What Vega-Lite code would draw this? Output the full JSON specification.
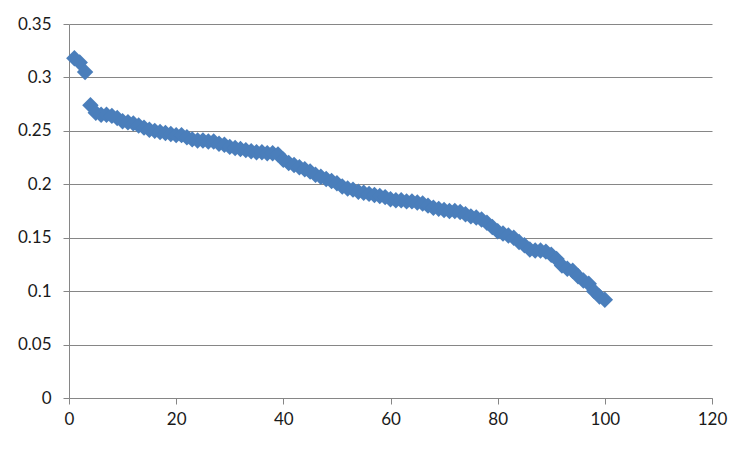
{
  "$schema": "https://vega.github.io/schema/vega-lite/v6.json",
  "width": 643,
  "height": 374,
  "autosize": {"type": "none"},
  "padding": {"left": 69, "top": 24, "right": 39, "bottom": 53},
  "background": "white",
  "config": {
    "view": {"stroke": null},
    "axis": {
      "labelFont": "Lato",
      "labelFontSize": 17,
      "labelColor": "#1a1a1a",
      "domainColor": "#868686",
      "tickColor": "#868686",
      "gridColor": "#868686",
      "tickSize": 6,
      "title": null
    }
  },
  "data": {
    "values": [
      {"x": 1, "y": 0.318}, {"x": 2, "y": 0.314}, {"x": 3, "y": 0.305}, {"x": 4, "y": 0.274},
      {"x": 5, "y": 0.267}, {"x": 6, "y": 0.265}, {"x": 7, "y": 0.265}, {"x": 8, "y": 0.264},
      {"x": 9, "y": 0.262}, {"x": 10, "y": 0.259}, {"x": 11, "y": 0.258}, {"x": 12, "y": 0.257},
      {"x": 13, "y": 0.255}, {"x": 14, "y": 0.253}, {"x": 15, "y": 0.251}, {"x": 16, "y": 0.25},
      {"x": 17, "y": 0.249}, {"x": 18, "y": 0.248}, {"x": 19, "y": 0.247}, {"x": 20, "y": 0.246},
      {"x": 21, "y": 0.246}, {"x": 22, "y": 0.244}, {"x": 23, "y": 0.242}, {"x": 24, "y": 0.241},
      {"x": 25, "y": 0.241}, {"x": 26, "y": 0.24}, {"x": 27, "y": 0.24}, {"x": 28, "y": 0.238},
      {"x": 29, "y": 0.237}, {"x": 30, "y": 0.235}, {"x": 31, "y": 0.234}, {"x": 32, "y": 0.233},
      {"x": 33, "y": 0.232}, {"x": 34, "y": 0.231}, {"x": 35, "y": 0.23}, {"x": 36, "y": 0.23},
      {"x": 37, "y": 0.229}, {"x": 38, "y": 0.229}, {"x": 39, "y": 0.228}, {"x": 40, "y": 0.223},
      {"x": 41, "y": 0.22}, {"x": 42, "y": 0.218}, {"x": 43, "y": 0.216}, {"x": 44, "y": 0.214},
      {"x": 45, "y": 0.212}, {"x": 46, "y": 0.209}, {"x": 47, "y": 0.207}, {"x": 48, "y": 0.205},
      {"x": 49, "y": 0.203}, {"x": 50, "y": 0.201}, {"x": 51, "y": 0.198}, {"x": 52, "y": 0.196},
      {"x": 53, "y": 0.195}, {"x": 54, "y": 0.193}, {"x": 55, "y": 0.192}, {"x": 56, "y": 0.191},
      {"x": 57, "y": 0.19}, {"x": 58, "y": 0.189}, {"x": 59, "y": 0.188}, {"x": 60, "y": 0.186},
      {"x": 61, "y": 0.185}, {"x": 62, "y": 0.185}, {"x": 63, "y": 0.184}, {"x": 64, "y": 0.184},
      {"x": 65, "y": 0.183}, {"x": 66, "y": 0.182}, {"x": 67, "y": 0.18}, {"x": 68, "y": 0.178},
      {"x": 69, "y": 0.177}, {"x": 70, "y": 0.176}, {"x": 71, "y": 0.175}, {"x": 72, "y": 0.175},
      {"x": 73, "y": 0.174}, {"x": 74, "y": 0.172}, {"x": 75, "y": 0.17}, {"x": 76, "y": 0.169},
      {"x": 77, "y": 0.167}, {"x": 78, "y": 0.164}, {"x": 79, "y": 0.16}, {"x": 80, "y": 0.156},
      {"x": 81, "y": 0.154}, {"x": 82, "y": 0.152}, {"x": 83, "y": 0.15}, {"x": 84, "y": 0.146},
      {"x": 85, "y": 0.143}, {"x": 86, "y": 0.139}, {"x": 87, "y": 0.138}, {"x": 88, "y": 0.138},
      {"x": 89, "y": 0.137}, {"x": 90, "y": 0.134}, {"x": 91, "y": 0.13}, {"x": 92, "y": 0.124},
      {"x": 93, "y": 0.121}, {"x": 94, "y": 0.119}, {"x": 95, "y": 0.114}, {"x": 96, "y": 0.11},
      {"x": 97, "y": 0.107}, {"x": 98, "y": 0.1}, {"x": 99, "y": 0.095}, {"x": 100, "y": 0.092}
    ]
  },
  "mark": {"type": "point", "shape": "diamond", "filled": true, "size": 270, "color": "#4A7EBB", "opacity": 1},
  "encoding": {
    "x": {
      "field": "x",
      "type": "quantitative",
      "scale": {"domain": [0, 120], "nice": false, "zero": true},
      "axis": {"values": [0, 20, 40, 60, 80, 100, 120], "format": "d", "grid": false, "labelPadding": 7, "labelFlush": false}
    },
    "y": {
      "field": "y",
      "type": "quantitative",
      "scale": {"domain": [0, 0.35], "nice": false},
      "axis": {"values": [0, 0.05, 0.1, 0.15, 0.2, 0.25, 0.3, 0.35], "format": "~g", "grid": true, "labelPadding": 12}
    }
  }
}
